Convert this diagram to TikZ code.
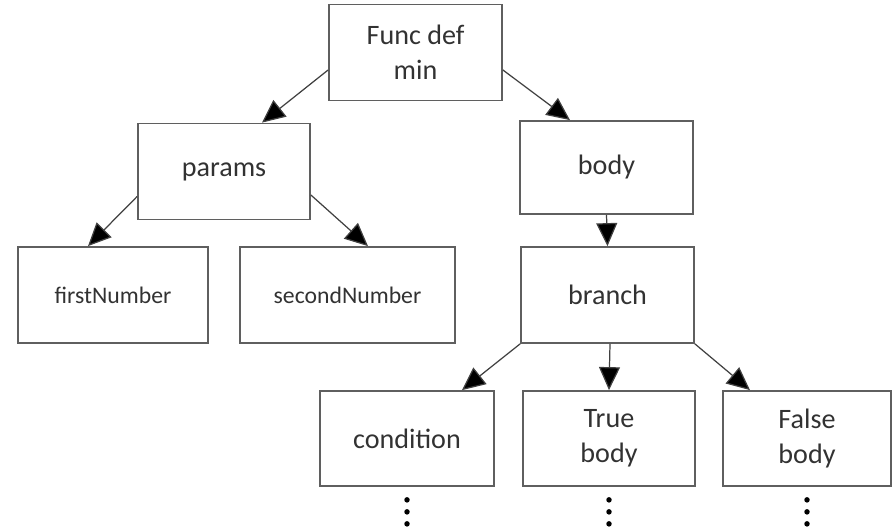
\documentclass[tikz,border=0pt]{standalone}
\usepackage{fontspec}
\setmainfont{Carlito}
\usetikzlibrary{arrows.meta}
\definecolor{boxgray}{RGB}{95,95,95}
\definecolor{textgray}{RGB}{50,50,50}
\tikzset{
  treebox/.style={draw=boxgray,line width=1pt,text=textgray,font=\fontsize{16}{20}\selectfont,align=center,minimum width=3.46cm,minimum height=1.92cm,inner sep=2pt},
  smallbox/.style={treebox,font=\fontsize{13.5}{16}\selectfont},
  treearrow/.style={draw=black!75,line width=0.7pt,-{Triangle[length=0.46cm,width=0.42cm,fill=black]}}
}
\begin{document}
\begin{tikzpicture}

% Define canvas
\useasboundingbox (0,0) rectangle (17.86,10.6);

% Boxes of the tree
\node[treebox] (funcdef) at (8.31,9.55) {Func def\\min};
\node[treebox,minimum width=3.44cm] (params) at (4.48,7.17) {params};
\node[treebox,minimum height=1.86cm] (body) at (12.13,7.25) {body};
\node[smallbox,minimum width=3.8cm] (firstnum) at (2.26,4.70) {firstNumber};
\node[smallbox,minimum width=4.3cm] (secondnum) at (6.95,4.70) {secondNumber};
\node[treebox] (branch) at (12.15,4.70) {branch};
\node[treebox,minimum width=3.48cm,minimum height=1.9cm] (condition) at (8.14,1.83) {condition};
\node[treebox,minimum width=3.44cm,minimum height=1.9cm] (truebody) at (12.18,1.83) {True\\body};
\node[treebox,minimum width=3.36cm,minimum height=1.9cm] (falsebody) at (16.14,1.83) {False\\body};

% Arrows
\draw[treearrow] ([yshift=-0.35cm]funcdef.west) -- ([xshift=0.76cm]params.north);
\draw[treearrow] ([yshift=-0.35cm]funcdef.east) -- ([xshift=-0.73cm]body.north);
\draw[treearrow] ([yshift=-0.5cm]params.west) -- ([xshift=-0.5cm]firstnum.north);
\draw[treearrow] ([yshift=-0.47cm]params.east) -- ([xshift=0.41cm]secondnum.north);
\draw[treearrow] (body.south) -- (branch.north);
\draw[treearrow] (branch.south west) -- ([xshift=1.1cm]condition.north);
\draw[treearrow] ([xshift=0.05cm]branch.south) -- (truebody.north);
\draw[treearrow] (branch.south east) -- ([xshift=-1.14cm]falsebody.north);

% Dots below the leaves
\foreach \n in {condition,truebody,falsebody}
  \foreach \d in {0.26,0.5,0.74}
    \fill[black] ([yshift=-\d cm]\n.south) circle (0.055cm);

\end{tikzpicture}
\end{document}
